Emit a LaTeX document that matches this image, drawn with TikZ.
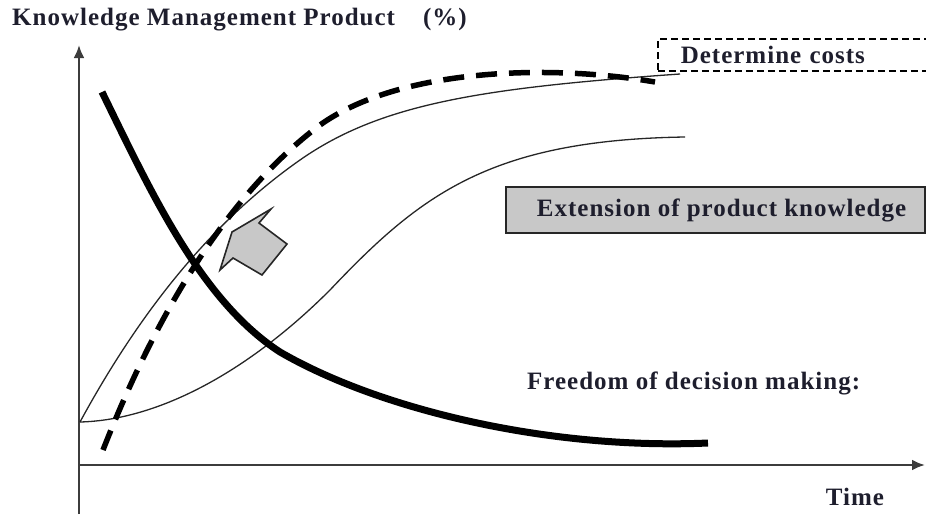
\documentclass[tikz,border=0pt]{standalone}
\usepackage{fontspec}
\setmainfont{Liberation Serif}
\newfontfamily\labelfont[LetterSpace=4]{Liberation Serif}
\usepackage{tikz}
\usetikzlibrary{arrows, shapes, positioning, arrows.meta, calc}
\definecolor{ink}{RGB}{30,30,45}
\definecolor{boxgray}{RGB}{200,200,200}
\definecolor{axisgray}{RGB}{60,60,60}
\tikzstyle{axis} = [line width=2.4pt, draw=axisgray, -{Latex[length=13pt,width=11pt]}]
\tikzstyle{caption} = [font=\labelfont\bfseries\fontsize{25}{29}\selectfont, text=ink, inner sep=0pt]
\tikzstyle{thincurve} = [line width=1.3pt, draw=black!85]
\tikzset{
  freedomcurve/.style={line width=7pt, draw=black},
  costcurve/.style={line width=5.5pt, draw=black, dash pattern=on 21pt off 12pt},
  costbox/.style={caption, draw=black, line width=1.6pt, dash pattern=on 7pt off 4pt, anchor=south west,
    minimum height=32pt, text width=300pt, inner xsep=23pt, align=left},
  knowbox/.style={caption, draw=black!85, fill=boxgray, line width=2.2pt, anchor=north west,
    minimum height=46pt, minimum width=419pt},
}

\begin{document}
\begin{tikzpicture}[x=1pt, y=-1pt]
        \useasboundingbox (0,0) rectangle (926,514);
        \clip (0,0) rectangle (926,514);
        % axes
        \coordinate (ybot) at (79,514);
        \coordinate (ytop) at (79,45);
        \coordinate (xbeg) at (79,465);
        \coordinate (xend) at (925,465);
        \draw[axis] (ybot) -- (ytop);
        \draw[axis] (xbeg) -- (xend);
        % labels
        \node[caption, anchor=west] (title) at (12,20) {Knowledge Management Product\hspace{28pt}(\%)};
        \node[caption] (time) at (855,497) {Time};
        \node[caption, anchor=west] (freedom) at (527,383) {Freedom of decision making:};
        \node[costbox] (costs) at (657,72) {Determine costs};
        \node[knowbox] (knowledge) at (505,186) {\hspace{12pt}Extension of product knowledge};
        % curves
        \draw[thincurve] (80,422) .. controls (130,330) and (200,230) .. (300,160)
          .. controls (380,104) and (480,88) .. (680,74);
        \draw[thincurve] (80,422) .. controls (160,420) and (250,370) .. (330,290)
          .. controls (420,195) and (490,140) .. (685,137);
        \draw[costcurve] (103,450) .. controls (150,330) and (220,200) .. (320,125)
          .. controls (400,68) and (550,64) .. (655,82);
        \draw[freedomcurve] (102,92) .. controls (150,190) and (200,300) .. (280,352)
          .. controls (380,410) and (550,450) .. (708,443);
        % pointer
        \draw[line width=1.6pt, draw=black!85, fill=boxgray, line join=miter]
          (271,209) -- (259,223) -- (287,244) -- (262,275) -- (233,258) -- (220,270) -- (232,232) -- cycle;
\end{tikzpicture}
\end{document}
